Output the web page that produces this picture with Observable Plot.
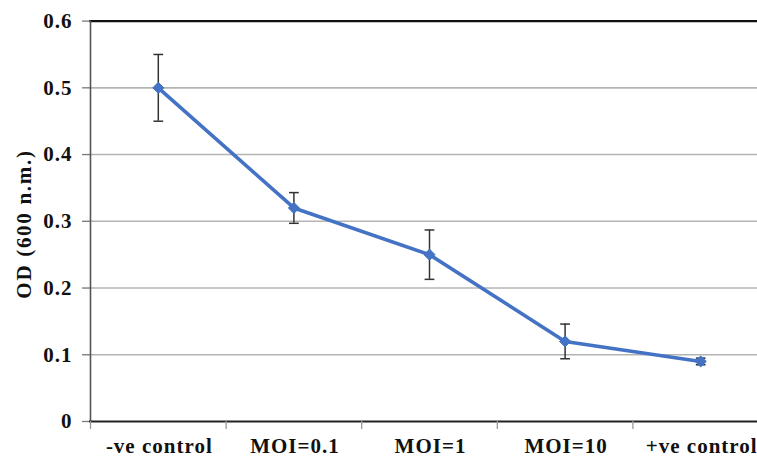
<!DOCTYPE html>
<html>
<head>
<meta charset="utf-8">
<script src="https://cdn.jsdelivr.net/npm/d3@7"></script>
<script src="https://cdn.jsdelivr.net/npm/@observablehq/plot@0.6"></script>
<style>
  html, body { margin: 0; padding: 0; background: #fff; overflow: hidden; }
  #chart svg { display: block; }
  #chart svg text { letter-spacing: 1px; }
</style>
</head>
<body>
<div id="chart"></div>
<script>
const categories = ["-ve control", "MOI=0.1", "MOI=1", "MOI=10", "+ve control"];
const odValues = [0.50, 0.32, 0.25, 0.12, 0.09];
const errors = [0.050, 0.023, 0.037, 0.026, 0.005];
const yTicks = [0, 0.1, 0.2, 0.3, 0.4, 0.5, 0.6];
const yTickLabels = ["0", "0.1", "0.2", "0.3", "0.4", "0.5", "0.6"];
const yTitle = "OD (600 n.m.)";

const data = categories.map((c, i) => ({
  cat: c, pos: i + 0.5, v: odValues[i], lo: odValues[i] - errors[i], hi: odValues[i] + errors[i]
}));
const edges = d3.range(categories.length + 1);
const gridTicks = yTicks.slice(1, -1);

const capSymbol = {
  draw(ctx, size) {
    const w = Math.sqrt(size) / 2;
    ctx.moveTo(-w, 0);
    ctx.lineTo(w, 0);
  }
};

const font = "Liberation Serif";

const chart = Plot.plot({
  width: 757,
  height: 457,
  marginLeft: 89,
  marginRight: 0,
  marginTop: 20,
  marginBottom: 36,
  style: { fontFamily: font, overflow: "hidden", background: "#fff" },
  x: { type: "linear", domain: [0, categories.length], range: [90, 768], axis: null },
  y: { domain: [0, 0.6], range: [421, 20.6], axis: null },
  marks: [
    Plot.ruleY(gridTicks, { stroke: "#b4b4b4", strokeWidth: 1.6 }),
    Plot.ruleY([0.6], { stroke: "#111", strokeWidth: 2.2 }),
    Plot.ruleX([0], { y1: 0, y2: 0.6, stroke: "#555", strokeWidth: 1.6 }),
    Plot.ruleY(yTicks, { x1: 0, x2: 0, insetLeft: -8, stroke: "#777", strokeWidth: 1.3 }),
    Plot.text(yTicks, {
      x: 0, y: d => d, text: (d, i) => yTickLabels[i], textAnchor: "end", dx: -18,
      fontFamily: font, fontSize: 21, fontWeight: "bold", fill: "#111"
    }),
    Plot.text([yTitle], {
      frameAnchor: "left", textAnchor: "middle", text: d => d, rotate: -90, dx: -65, dy: 3,
      fontFamily: font, fontSize: 21, fontWeight: "bold", fill: "#111"
    }),
    Plot.ruleY([0], { stroke: "#222", strokeWidth: 2.2 }),
    Plot.ruleX(edges, { y1: 0, y2: 0, insetBottom: -8, stroke: "#999", strokeWidth: 1.3 }),
    Plot.text(data, {
      x: "pos", y: 0, text: "cat", lineAnchor: "bottom", dy: 31, dx: 1,
      fontFamily: font, fontSize: 21, fontWeight: "bold", fill: "#111"
    }),
    Plot.ruleX(data, { x: "pos", y1: "lo", y2: "hi", stroke: "#333", strokeWidth: 1.5 }),
    Plot.dot(data, { x: "pos", y: "lo", symbol: capSymbol, r: 5.5, stroke: "#333", strokeWidth: 1.5, fill: "none" }),
    Plot.dot(data, { x: "pos", y: "hi", symbol: capSymbol, r: 5.5, stroke: "#333", strokeWidth: 1.5, fill: "none" }),
    Plot.line(data, { x: "pos", y: "v", stroke: "#4472C4", strokeWidth: 3.6 }),
    Plot.dot(data, { x: "pos", y: "v", symbol: "diamond2", r: 5, fill: "#4472C4", stroke: "#4472C4", strokeWidth: 1 })
  ]
});
d3.select(chart).selectAll("text")
  .filter(function () { return (this.getAttribute("transform") || "").includes("rotate"); })
  .style("letter-spacing", "1.7px");
document.getElementById("chart").appendChild(chart);
</script>
</body>
</html>
